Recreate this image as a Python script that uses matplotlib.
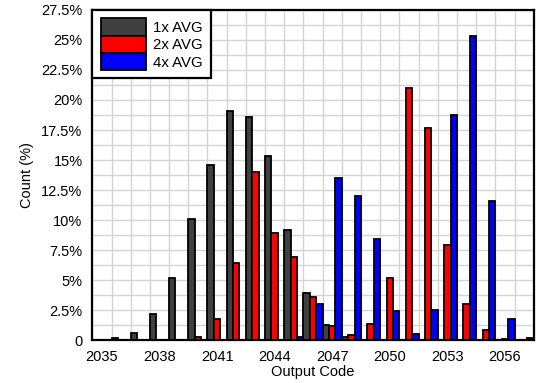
import matplotlib
matplotlib.use("Agg")
import matplotlib.pyplot as plt
import numpy as np
from matplotlib.ticker import FuncFormatter, MultipleLocator

plt.rcParams['font.family'] = ['Liberation Sans', 'DejaVu Sans']

# output code histogram for three averaging settings
codes = list(range(2035, 2058))
avg1 = [0.05, 0.15, 0.6, 2.2, 5.2, 10.1, 14.6, 19.1, 18.6, 15.3, 9.15, 3.9,
        1.25, 0.3, 0.05, 0, 0, 0, 0, 0, 0, 0, 0]
avg2 = [0, 0, 0, 0, 0.02, 0.28, 1.78, 6.45, 14.0, 8.9, 6.9, 3.55,
        1.17, 0.42, 1.3, 5.2, 21.0, 17.7, 7.9, 2.97, 0.8, 0.1, 0]
avg4 = [0, 0, 0, 0, 0, 0, 0, 0, 0, 0, 0.3, 2.97,
        13.5, 12.0, 8.45, 2.45, 0.55, 2.5, 18.75, 25.35, 11.6, 1.75, 0.15]
labels = ["1x AVG", "2x AVG", "4x AVG"]
colors = ["#404040", "#ff0000", "#0000ff"]

fig = plt.figure(figsize=(5.43, 3.83), dpi=100)
ax = fig.add_axes([0.170, 0.112, 0.813, 0.862])

x = np.array(codes)
w = 1 / 3
for k, (vals, lab, col) in enumerate(zip([avg1, avg2, avg4], labels, colors)):
    ax.bar(x + (k - 1) * w, vals, width=w, color=col, edgecolor="black",
           linewidth=1.3, label=lab, zorder=3)

ax.set_xlim(2034.5, 2057.5)
ax.set_ylim(0, 27.5)
ax.set_xticks(codes[::3])
ax.set_xticks(np.arange(2034.5, 2058, 1), minor=True)
ax.yaxis.set_major_locator(MultipleLocator(2.5))
ax.yaxis.set_minor_locator(MultipleLocator(1.25))
ax.yaxis.set_major_formatter(FuncFormatter(lambda v, p: "0" if v == 0 else f"{v:g}%"))

ax.grid(True, which="minor", axis="x", color="#d4d4d4", linewidth=1, zorder=0)
ax.grid(True, which="both", axis="y", color="#d4d4d4", linewidth=1, zorder=0)
ax.set_axisbelow(True)
ax.tick_params(which="both", length=0, labelsize=10.5, colors="black")
ax.tick_params(axis="x", pad=7)
ax.tick_params(axis="y", pad=7)

for s in ax.spines.values():
    s.set_linewidth(1.6)
    s.set_color("black")

ax.set_xlabel("Output Code", fontsize=10.5, labelpad=1)
ax.set_ylabel("Count (%)", fontsize=10.5, labelpad=5)

leg = ax.legend(loc="upper left", bbox_to_anchor=(0, 1), fontsize=10.8,
                fancybox=False, framealpha=1, edgecolor="black",
                handlelength=3.0, handleheight=1.4, labelspacing=0.0,
                handletextpad=0.5, borderaxespad=0, borderpad=0.55)
leg.get_frame().set_linewidth(1.6)

fig.savefig("out.png", dpi=100)
